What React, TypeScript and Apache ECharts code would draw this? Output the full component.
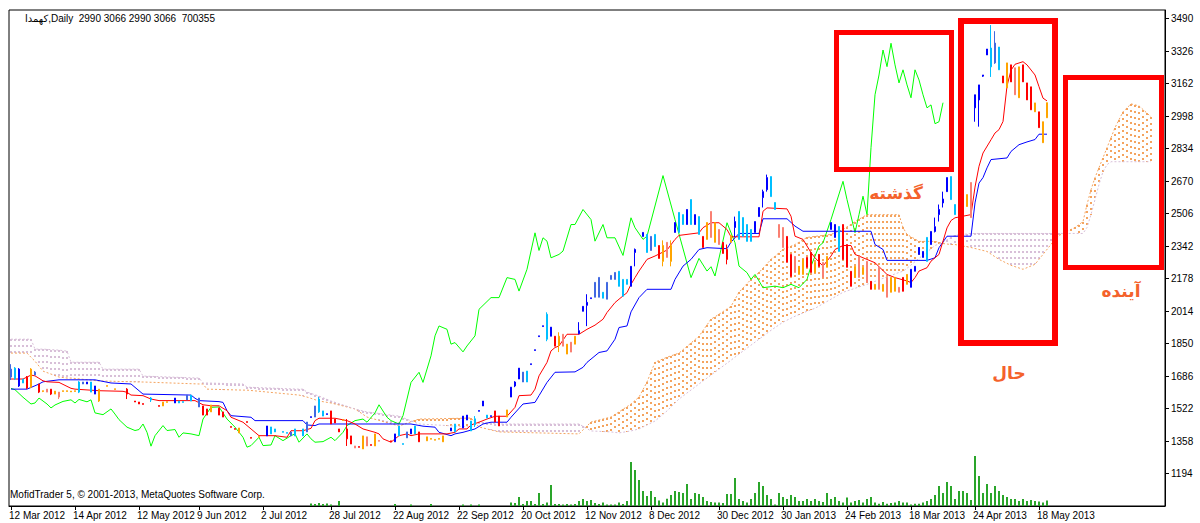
import React, { useEffect, useRef } from 'react';
import * as echarts from 'echarts';

const CATEGORY_COUNT = 289;
const FONT = '"Liberation Sans", "DejaVu Sans", sans-serif';

const dateLabels = ['12 Mar 2012', '14 Apr 2012', '12 May 2012', '9 Jun 2012', '2 Jul 2012', '28 Jul 2012', '22 Aug 2012', '22 Sep 2012', '20 Oct 2012', '12 Nov 2012', '8 Dec 2012', '30 Dec 2012', '30 Jan 2013', '24 Feb 2013', '18 Mar 2013', '24 Apr 2013', '18 May 2013'];
const dateLabelBars = [0, 16, 32, 47, 63, 80, 96, 112, 128, 144, 160, 177, 193, 209, 225, 241, 257];

const priceMin = 1030;
const priceStep = 164;
const priceMax = 3534;
const volumeMax = 69440;

const candleColors: Record<string, string> = { B: '#0000FF', R: '#4169E1', C: '#00BFFF', D: '#FF0000', O: '#FFA500', S: '#FA8072' };

type Candle = [number, number, number, number, string] | null;
// [open, close, low, high, colour code]
const candles: Candle[] = [
  [1681,1721,1666,1746,'R'],[1671,1726,1666,1731,'C'],[1636,1721,1631,1726,'B'],[1651,1671,1651,1671,'C'],[1625,1681,1620,1686,'D'],[1630,1721,1625,1726,'O'],[1691,1706,1691,1711,'R'],[1605,1646,1600,1646,'D'],[1608,1612,1605,1612,'O'],[1605,1620,1605,1620,'S'],
  [1595,1620,1590,1620,'D'],[1595,1610,1595,1610,'O'],[1580,1605,1570,1605,'S'],[1608,1612,1608,1612,'O'],[1608,1612,1608,1612,'O'],[1606,1610,1606,1610,'O'],[1608,1612,1608,1612,'O'],[1605,1656,1600,1660,'C'],[1646,1656,1646,1656,'R'],[1646,1656,1646,1656,'B'],
  [1605,1656,1605,1656,'C'],[1595,1636,1595,1636,'B'],[1560,1620,1555,1620,'O'],null,[1634,1638,1634,1638,'O'],null,[1618,1622,1618,1622,'O'],null,null,[1595,1620,1570,1625,'D'],
  null,[1555,1560,1555,1560,'D'],[1545,1555,1545,1555,'D'],[1543,1547,1543,1547,'D'],null,[1565,1575,1555,1580,'C'],null,[1533,1537,1533,1537,'D'],[1535,1555,1535,1555,'O'],[1553,1557,1553,1557,'O'],
  null,[1550,1575,1550,1575,'B'],[1550,1560,1550,1560,'C'],[1553,1557,1553,1557,'C'],[1565,1590,1565,1590,'R'],[1560,1590,1560,1590,'C'],null,[1530,1575,1530,1575,'R'],[1489,1535,1489,1535,'D'],[1489,1520,1489,1520,'D'],
  [1505,1540,1505,1540,'O'],null,[1489,1525,1489,1525,'D'],[1479,1505,1479,1505,'D'],null,[1427,1431,1427,1431,'D'],[1417,1421,1417,1421,'D'],[1399,1424,1399,1424,'O'],null,[1452,1456,1452,1456,'D'],
  [1372,1376,1372,1376,'D'],null,[1377,1381,1377,1381,'O'],null,[1384,1434,1384,1434,'B'],[1394,1429,1394,1429,'C'],[1404,1419,1404,1419,'C'],null,[1402,1406,1402,1406,'C'],[1397,1401,1397,1401,'C'],
  [1384,1404,1384,1404,'R'],[1384,1419,1384,1419,'C'],null,[1384,1419,1384,1419,'C'],[1404,1454,1404,1454,'R'],[1477,1481,1477,1481,'B'],[1479,1535,1479,1535,'R'],[1505,1570,1500,1580,'C'],[1484,1510,1484,1510,'C'],[1492,1496,1492,1496,'B'],
  [1444,1510,1444,1510,'D'],[1449,1469,1449,1469,'D'],[1404,1419,1404,1419,'D'],[1462,1466,1462,1466,'O'],[1369,1419,1333,1469,'D'],[1343,1384,1343,1384,'D'],[1323,1333,1323,1333,'S'],[1326,1330,1326,1330,'D'],[1318,1384,1318,1384,'O'],[1333,1379,1333,1379,'S'],
  [1336,1340,1336,1340,'D'],[1333,1394,1333,1394,'O'],[1357,1361,1357,1361,'S'],null,null,[1354,1359,1354,1359,'D'],[1354,1394,1354,1394,'B'],[1384,1434,1384,1434,'C'],[1341,1345,1341,1345,'C'],[1374,1404,1374,1404,'R'],
  [1394,1419,1394,1419,'B'],[1394,1434,1394,1434,'C'],[1354,1404,1354,1404,'D'],null,[1359,1379,1359,1379,'O'],[1367,1371,1367,1371,'O'],[1362,1366,1362,1366,'O'],[1367,1371,1367,1371,'O'],[1354,1384,1354,1384,'O'],null,
  [1409,1424,1409,1424,'B'],[1404,1444,1404,1444,'C'],null,[1424,1484,1424,1484,'B'],[1464,1489,1464,1489,'B'],[1409,1459,1409,1459,'C'],[1440,1470,1429,1484,'C'],[1508,1512,1508,1512,'B'],[1535,1560,1535,1560,'B'],[1474,1489,1474,1489,'C'],
  [1482,1486,1482,1486,'B'],[1454,1510,1454,1510,'D'],[1434,1484,1434,1484,'D'],null,[1479,1515,1479,1515,'O'],[1580,1630,1580,1630,'B'],[1636,1656,1630,1660,'B'],[1671,1726,1671,1726,'B'],[1656,1706,1656,1706,'R'],[1656,1711,1656,1711,'C'],
  [1744,1748,1744,1748,'B'],[1815,1819,1815,1819,'B'],[1885,1889,1885,1889,'B'],[1936,1940,1936,1940,'B'],[1872,1998,1862,2008,'C'],[1887,1933,1887,1933,'B'],[1837,1887,1837,1887,'D'],[1842,1887,1807,1907,'O'],[1837,1897,1837,1897,'S'],[1797,1847,1797,1847,'O'],
  [1807,1857,1807,1857,'S'],[1847,1887,1847,1887,'O'],[1900,1915,1897,1958,'B'],[2013,2038,2013,2038,'B'],[2043,2058,1938,2099,'B'],[2077,2081,2077,2081,'B'],[2084,2159,2084,2159,'R'],[2084,2184,2084,2184,'R'],[2079,2109,2079,2109,'C'],[2074,2159,2074,2159,'R'],
  [2174,2194,2174,2194,'R'],[2174,2209,2174,2209,'R'],[2139,2215,2139,2215,'C'],[2089,2174,2089,2174,'C'],[2149,2174,2149,2174,'C'],[2139,2240,2139,2240,'B'],[2310,2325,2240,2330,'B'],null,[2391,2411,2391,2411,'B'],[2310,2401,2310,2401,'C'],
  [2320,2391,2320,2391,'R'],[2340,2401,2340,2401,'C'],[2280,2345,2280,2345,'D'],[2265,2345,2240,2371,'O'],[2285,2361,2285,2361,'S'],[2265,2345,2240,2371,'O'],[2411,2461,2411,2461,'B'],[2411,2512,2411,2512,'C'],[2451,2501,2451,2501,'C'],[2451,2527,2451,2527,'B'],
  [2451,2577,2451,2577,'C'],[2451,2501,2451,2501,'B'],[2401,2491,2401,2491,'C'],[2335,2391,2335,2391,'D'],[2376,2461,2376,2461,'O'],[2386,2517,2386,2517,'S'],[2361,2461,2361,2461,'O'],[2350,2426,2350,2426,'S'],[2305,2361,2305,2361,'D'],[2275,2325,2250,2350,'D'],
  [2361,2396,2361,2396,'O'],[2436,2466,2386,2491,'B'],[2376,2517,2376,2517,'C'],[2391,2486,2391,2486,'C'],[2366,2451,2366,2451,'C'],[2366,2426,2366,2426,'C'],[2411,2466,2411,2466,'B'],[2491,2537,2491,2537,'B'],[2587,2617,2537,2627,'B'],[2627,2688,2617,2703,'B'],
  [2592,2693,2592,2693,'C'],[2527,2562,2527,2562,'C'],[2386,2451,2386,2451,'S'],[2335,2436,2335,2436,'S'],[2260,2391,2260,2391,'D'],[2189,2300,2189,2300,'D'],[2209,2290,2209,2290,'S'],[2199,2240,2199,2240,'O'],[2199,2275,2199,2275,'O'],[2235,2285,2235,2285,'D'],
  [2209,2310,2209,2310,'D'],[2209,2260,2209,2260,'O'],[2240,2300,2240,2300,'D'],[2184,2260,2184,2260,'S'],[2235,2290,2235,2290,'O'],[2426,2461,2426,2461,'B'],[2386,2451,2386,2451,'B'],[2315,2441,2315,2441,'C'],[2275,2451,2275,2451,'D'],[2235,2350,2235,2350,'D'],
  [2139,2215,2139,2215,'D'],[2184,2240,2184,2240,'O'],[2184,2290,2184,2290,'S'],[2199,2235,2199,2235,'O'],[2159,2265,2159,2265,'S'],[2124,2164,2124,2164,'D'],[2124,2149,2124,2149,'O'],[2124,2235,2124,2235,'S'],[2114,2149,2114,2149,'O'],[2084,2184,2084,2184,'S'],
  [2109,2184,2109,2184,'O'],[2114,2184,2114,2184,'O'],[2109,2134,2109,2134,'S'],[2114,2184,2114,2184,'D'],[2149,2199,2149,2199,'O'],[2134,2225,2134,2225,'B'],[2215,2240,2215,2240,'B'],[2300,2335,2300,2335,'B'],[2285,2315,2285,2315,'B'],[2265,2386,2265,2386,'C'],
  [2350,2416,2350,2416,'B'],[2416,2440,2411,2486,'B'],[2501,2527,2466,2552,'B'],[2560,2580,2537,2617,'B'],[2617,2688,2617,2688,'B'],[2577,2693,2577,2693,'C'],[2501,2552,2501,2552,'C'],null,[2436,2517,2350,2517,'O'],[2542,2602,2542,2602,'O'],
  [2486,2663,2486,2663,'S'],[3040,3106,2970,3106,'B'],[3080,3156,2945,3156,'B'],[3200,3206,3196,3206,'B'],[3307,3337,3307,3337,'B'],[3247,3342,3196,3458,'C'],[3267,3367,3262,3427,'R'],[3232,3347,3232,3347,'C'],[3166,3201,3166,3201,'D'],[3141,3267,3141,3267,'O'],
  [3171,3257,3171,3257,'D'],[3106,3242,3106,3242,'S'],[3091,3247,3091,3247,'O'],[3171,3257,3171,3257,'D'],[3080,3166,3080,3166,'D'],[3030,3146,3030,3146,'D'],[3020,3065,3020,3065,'O'],[2940,3020,2940,3020,'D'],[2864,2970,2864,2970,'O'],[2990,3066,2990,3066,'O'],
];

// [bar, volume in thousands]
const volumes: [number, number][] = [
  [75,350],[76,280],[77,420],[78,280],[79,350],[80,210],[82,700],[96,280],[100,210],[105,280],[113,210],[115,210],[117,210],[125,490],[126,420],[127,1260],[128,280],[129,700],[130,700],[131,280],[132,1820],[133,280],[134,490],[135,2940],[136,280],[137,280],[138,210],[139,280],[140,210],[141,280],[142,700],[143,980],[144,700],[145,840],[146,420],[147,280],[148,490],[149,210],[150,210],[151,210],[152,490],[153,280],[154,700],
  [155,6160],[156,5040],[157,3640],[158,2100],[159,1400],[160,2100],[161,1260],[162,760],[163,490],[164,1020],[165,1540],[166,2100],[167,1960],[168,1820],[169,3080],[170,980],[171,1820],[172,1680],[173,1260],[174,700],[175,560],[176,490],[177,490],[178,420],[179,1680],[180,1680],[181,3920],[182,980],[183,700],[184,490],[185,980],[186,1820],[187,3360],[188,2800],[189,1540],[190,980],[191,210],[192,1820],[193,1260],[194,980],[195,1540],[196,1260],[197,700],[198,700],[199,980],[200,700],[201,980],[202,700],[203,560],[204,1820],[205,980],[206,1260],[207,700],[208,490],[209,1190],[210,490],[211,700],[212,840],[213,490],[214,980],[215,1260],[216,490],[217,320],[218,560],[219,320],[220,420],[221,490],[222,700],[223,490],[224,490],[225,210],[226,320],[227,320],[228,490],[229,700],[230,980],[231,1540],[232,2800],[233,1820],[234,3360],[235,2800],[236,980],[237,2100],[238,2100],[239,1820],[240,840],[241,7000],[242,4200],[243,1820],[244,3080],[245,1820],[246,2800],[247,2100],[248,1540],[249,1260],[250,980],[251,980],[252,700],[253,980],[254,700],[255,840],[256,700],[257,640],[258,490],[259,760],
];

// Tenkan-sen (red), [bar, value]
const tenkan: [number, number][] = [
  [0,1671],[3,1671],[5,1691],[6,1687],[8,1662],[9,1657],[12,1654],[15,1624],[16,1620],[22,1612],[28,1609],[29,1604],[30,1590],[33,1587],[35,1570],[37,1562],[46,1562],[48,1541],[50,1536],[52,1536],[54,1511],[55,1478],[58,1453],[61,1402],[62,1385],[66,1385],[69,1377],[70,1410],[73,1410],[75,1422],[76,1461],[77,1473],[81,1473],[84,1461],[86,1444],[88,1419],[91,1402],[92,1394],[93,1369],[95,1352],[97,1385],[99,1394],[100,1385],[102,1394],[109,1394],[111,1402],[112,1419],[114,1419],[115,1439],[117,1453],[119,1469],[121,1483],[124,1483],[126,1528],[127,1587],[130,1590],[131,1620],[132,1687],[134,1755],[135,1813],[136,1830],[137,1838],[139,1897],[142,1897],[144,1922],[146,1943],[148,1973],[149,2007],[151,2057],[152,2074],[154,2107],[155,2149],[156,2183],[157,2216],[159,2275],[161,2292],[164,2322],[166,2376],[167,2396],[172,2409],[173,2435],[175,2460],[177,2460],[179,2426],[180,2389],[187,2389],[188,2518],[189,2535],[194,2530],[195,2493],[196,2392],[198,2376],[200,2309],[201,2283],[203,2241],[205,2292],[206,2325],[208,2345],[210,2345],[211,2300],[216,2258],[219,2199],[221,2183],[224,2166],[225,2158],[226,2183],[227,2216],[229,2233],[230,2266],[232,2300],[234,2434],[235,2471],[236,2485],[240,2501],[241,2640],[242,2745],[243,2812],[245,2879],[246,2913],[247,2930],[248,2971],[249,3150],[250,3230],[251,3260],[253,3273],[254,3257],[256,3206],[257,3147],[258,3089],[259,3075],
];

// Kijun-sen (blue)
const kijun: [number, number][] = [
  [0,1620],[4,1620],[6,1637],[7,1646],[8,1657],[12,1667],[21,1667],[25,1651],[30,1646],[32,1612],[33,1595],[45,1590],[46,1574],[47,1562],[52,1557],[53,1553],[54,1511],[55,1486],[60,1478],[61,1461],[73,1461],[74,1439],[76,1436],[77,1444],[100,1444],[103,1433],[106,1428],[107,1402],[110,1385],[111,1394],[113,1402],[116,1419],[118,1444],[120,1453],[124,1453],[125,1478],[128,1545],[131,1553],[132,1587],[134,1654],[136,1705],[141,1707],[143,1730],[144,1755],[147,1805],[149,1813],[151,1872],[152,1931],[154,1939],[155,2010],[157,2082],[159,2124],[165,2124],[166,2174],[168,2241],[170,2275],[172,2325],[174,2334],[179,2329],[180,2362],[181,2384],[182,2406],[187,2406],[188,2480],[194,2480],[196,2443],[198,2417],[215,2417],[216,2350],[218,2325],[219,2270],[229,2270],[231,2283],[232,2334],[234,2392],[240,2392],[241,2560],[242,2660],[243,2688],[244,2737],[245,2779],[249,2787],[250,2820],[252,2854],[254,2868],[256,2880],[257,2907],[259,2907],
];

// Chikou span (green)
const chikou: [number, number][] = [
  [0,1624],[1,1617],[3,1579],[5,1545],[6,1550],[7,1575],[9,1545],[10,1525],[11,1540],[13,1558],[15,1566],[16,1550],[17,1568],[19,1556],[20,1566],[21,1500],[23,1491],[25,1520],[26,1494],[27,1466],[29,1428],[31,1411],[32,1416],[33,1444],[34,1402],[35,1332],[36,1385],[38,1436],[39,1411],[41,1416],[42,1377],[43,1399],[45,1394],[47,1385],[48,1469],[50,1528],[52,1530],[54,1469],[56,1428],[58,1377],[59,1327],[60,1335],[62,1377],[63,1335],[65,1338],[66,1385],[68,1360],[70,1385],[71,1394],[72,1352],[74,1394],[75,1369],[76,1352],[78,1355],[80,1377],[81,1360],[83,1402],[84,1436],[86,1461],[88,1469],[89,1453],[91,1500],[92,1541],[94,1478],[95,1461],[97,1444],[98,1486],[100,1654],[102,1705],[103,1654],[105,1788],[106,1889],[107,1939],[109,1922],[110,1847],[111,1855],[113,1808],[114,1838],[116,1889],[117,2023],[120,2082],[122,2082],[124,2183],[126,2174],[127,2115],[129,2225],[131,2409],[132,2320],[133,2384],[134,2367],[135,2283],[137,2300],[138,2317],[140,2451],[141,2451],[143,2527],[145,2476],[146,2367],[148,2451],[149,2384],[151,2384],[153,2295],[155,2485],[156,2435],[158,2376],[159,2392],[163,2698],[166,2476],[170,2183],[172,2280],[174,2216],[175,2238],[176,2191],[179,2460],[181,2359],[182,2241],[184,2208],[185,2174],[186,2199],[187,2166],[188,2132],[191,2140],[193,2132],[195,2149],[197,2132],[199,2174],[200,2241],[202,2342],[203,2359],[205,2476],[208,2669],[209,2577],[211,2410],[212,2501],[213,2594],[214,2501],[215,2839],[216,3106],[217,3206],[218,3332],[219,3248],[220,3366],[221,3257],[222,3166],[223,3232],[224,3156],[225,3091],[226,3232],[227,3181],[228,3106],[229,3040],[230,3055],[231,2960],[232,2970],[233,3066],
];

// Senkou spans A (sandy brown) and B (thistle), read at shared bars
const spanBars = [0,4,5,6,8,12,14,15,22,23,32,33,47,48,49,58,59,72,73,74,77,80,83,86,89,97,102,115,117,122,142,145,150,152,155,157,159,161,164,167,172,175,177,180,182,185,187,190,193,196,199,201,205,208,211,214,222,223,224,227,231,233,235,236,240,244,247,250,253,256,258,261,262,266,268,269,270,271,272,273,274,275,276,278,280,282,285];
const spanA = [1802,1802,1781,1761,1711,1681,1676,1676,1661,1661,1656,1656,1646,1646,1620,1615,1615,1590,1585,1580,1560,1550,1535,1520,1479,1434,1469,1474,1429,1404,1394,1454,1479,1505,1545,1580,1656,1756,1781,1802,1887,1973,1998,2038,2109,2174,2209,2275,2325,2350,2386,2391,2401,2426,2466,2501,2501,2436,2401,2366,2366,2355,2350,2350,2335,2315,2275,2245,2225,2250,2300,2376,2396,2436,2466,2552,2627,2688,2738,2788,2839,2889,2940,3020,3060,3050,2995];
const spanB = [1872,1872,1872,1822,1822,1817,1812,1756,1756,1721,1721,1686,1676,1651,1651,1646,1630,1620,1620,1605,1585,1560,1540,1520,1505,1484,1444,1429,1454,1444,1444,1409,1404,1399,1409,1419,1439,1459,1510,1570,1646,1691,1721,1766,1797,1842,1872,1917,1958,1988,2013,2028,2074,2109,2129,2149,2209,2215,2230,2280,2345,2361,2386,2396,2406,2406,2406,2406,2406,2406,2406,2406,2406,2406,2406,2436,2501,2577,2653,2718,2753,2768,2768,2768,2768,2768,2768];

const titleText = 'کهمدا,Daily  2990 3066 2990 3066  700355';
const copyrightText = 'MofidTrader 5, © 2001-2013, MetaQuotes Software Corp.';
const noteTexts = ['گذشته', 'حال', 'آینده'];

const CLOUD_UP = '#F4A460';
const CLOUD_DOWN = '#D8BFD8';

export default function App() {
  const ref = useRef<HTMLDivElement>(null);

  useEffect(() => {
    if (!ref.current) return;
    const chart = echarts.init(ref.current, null, { renderer: 'svg' });

    const labelMap = new Map<number, string>();
    dateLabelBars.forEach((b, k) => labelMap.set(b, dateLabels[k]));
    const categories = Array.from({ length: CATEGORY_COUNT }, (_, i) => 'b' + i);
    const isLabel = (i: number) => labelMap.has(i);

    const candleData = candles.map((c) => {
      if (!c) return ['-', '-', '-', '-'];
      const col = candleColors[c[4]];
      return {
        value: [c[0], c[1], c[2], c[3]],
        itemStyle: { color: col, color0: col, borderColor: col, borderColor0: col },
      };
    });

    const nSpan = spanBars.length;
    const cloudData = spanBars.map((b, k) => [b, spanA[k], spanB[k]]);

    const noteStyle = { fill: '#F4622C', fontSize: 17, fontWeight: 'bold', fontFamily: '"DejaVu Sans", sans-serif', align: 'center', verticalAlign: 'middle' };

    const option: any = {
      animation: false,
      backgroundColor: '#ffffff',
      grid: {
        left: 9, top: 10, width: 1156, height: 496,
        show: true, borderColor: '#000000', borderWidth: 1, backgroundColor: 'transparent',
      },
      xAxis: {
        type: 'category',
        data: categories,
        boundaryGap: true,
        axisLine: { show: true, lineStyle: { color: '#000000', width: 1 } },
        axisTick: { show: true, alignWithLabel: true, interval: (i: number) => isLabel(i), length: 4, lineStyle: { color: '#000000' } },
        axisLabel: {
          show: true,
          interval: (i: number) => isLabel(i),
          formatter: (_v: string, i: number) => labelMap.get(i) ?? '',
          align: 'left', margin: 4, padding: [0, 0, 0, -2], color: '#000000', fontSize: 10, fontFamily: FONT,
        },
        splitLine: { show: false },
      },
      yAxis: [
        {
          type: 'value', position: 'right',
          min: priceMin, max: priceMax, interval: priceStep,
          axisLine: { show: true, lineStyle: { color: '#000000' } },
          axisTick: { show: true, length: 4, lineStyle: { color: '#000000' } },
          axisLabel: {
            showMinLabel: false, showMaxLabel: false, margin: 6,
            color: '#000000', fontSize: 10, fontFamily: FONT,
            formatter: (v: number) => String(v),
          },
          splitLine: { show: false },
        },
        { type: 'value', min: 0, max: volumeMax, show: false, splitLine: { show: false } },
      ],
      series: [
        {
          // Ichimoku cloud: a dotted column per bar between Senkou Span A and B
          type: 'custom',
          name: 'Cloud',
          coordinateSystem: 'cartesian2d',
          xAxisIndex: 0, yAxisIndex: 0,
          clip: true,
          silent: true,
          z: 1,
          data: cloudData,
          encode: { x: 0, y: [1, 2] },
          renderItem: (params: any, api: any) => {
            const k = params.dataIndex;
            const b0 = spanBars[k];
            const last = k >= nSpan - 1;
            const b1 = last ? b0 + 1 : spanBars[k + 1];
            const a0 = api.coord([b0, spanA[k]]);
            const c0 = api.coord([b0, spanB[k]]);
            const a1 = last ? a0 : api.coord([b1, spanA[k + 1]]);
            const c1 = last ? c0 : api.coord([b1, spanB[k + 1]]);
            const children: any[] = [];
            for (let j = b0; j < b1; j++) {
              const t = (j - b0) / (b1 - b0);
              const x = Math.round(api.coord([j, spanA[k]])[0]);
              const ya = a0[1] + (a1[1] - a0[1]) * t;
              const yb = c0[1] + (c1[1] - c0[1]) * t;
              const top = Math.round(Math.min(ya, yb));
              const bottom = Math.round(Math.max(ya, yb));
              if (bottom - top < 1) continue;
              children.push({
                type: 'line',
                shape: { x1: x, y1: top, x2: x, y2: bottom },
                style: { stroke: ya <= yb ? CLOUD_UP : CLOUD_DOWN, lineWidth: 2, lineDash: [2, 4] },
              });
            }
            return { type: 'group', children };
          },
        },
        {
          type: 'line', name: 'Senkou Span A', data: spanBars.map((b, k) => [b, spanA[k]]),
          showSymbol: false, symbol: 'none', z: 2, silent: true,
          lineStyle: { color: CLOUD_UP, width: 1, type: [2, 2] },
        },
        {
          type: 'line', name: 'Senkou Span B', data: spanBars.map((b, k) => [b, spanB[k]]),
          showSymbol: false, symbol: 'none', z: 2, silent: true,
          lineStyle: { color: CLOUD_DOWN, width: 1, type: [2, 2] },
        },
        {
          type: 'bar', name: 'Volume', xAxisIndex: 0, yAxisIndex: 1,
          data: volumes, barWidth: 2, z: 2, silent: true,
          itemStyle: { color: '#2AA52A' },
        },
        {
          type: 'line', name: 'Chikou Span', data: chikou,
          showSymbol: false, symbol: 'none', z: 3, silent: true,
          lineStyle: { color: '#00FF00', width: 1 },
        },
        {
          type: 'line', name: 'Kijun-sen', data: kijun,
          showSymbol: false, symbol: 'none', z: 3, silent: true,
          lineStyle: { color: '#0000FF', width: 1 },
        },
        {
          type: 'line', name: 'Tenkan-sen', data: tenkan,
          showSymbol: false, symbol: 'none', z: 3, silent: true,
          lineStyle: { color: '#FF0000', width: 1 },
        },
        {
          type: 'candlestick', name: 'Price', data: candleData,
          barWidth: 2, z: 4, silent: true,
          itemStyle: { borderWidth: 1 },
        },
      ],
      graphic: [
        { type: 'text', left: 25, top: 13, z: 100, style: { text: titleText, fill: '#000000', fontSize: 10, fontFamily: FONT } },
        { type: 'text', left: 10, top: 489, z: 100, style: { text: copyrightText, fill: '#000000', fontSize: 10, fontFamily: FONT } },
        { type: 'rect', z: 100, shape: { x: 836.5, y: 32.5, width: 115, height: 137 }, style: { fill: 'none', stroke: '#FF0000', lineWidth: 5 } },
        { type: 'rect', z: 100, shape: { x: 961, y: 21, width: 94, height: 322 }, style: { fill: 'none', stroke: '#FF0000', lineWidth: 6 } },
        { type: 'rect', z: 100, shape: { x: 1065.5, y: 77.5, width: 96, height: 190 }, style: { fill: 'none', stroke: '#FF0000', lineWidth: 5 } },
        { type: 'text', x: 896, y: 193, z: 100, style: { text: noteTexts[0], ...noteStyle } },
        { type: 'text', x: 1009, y: 373, z: 100, style: { text: noteTexts[1], ...noteStyle } },
        { type: 'text', x: 1121, y: 291, z: 100, style: { text: noteTexts[2], ...noteStyle } },
      ],
    };

    chart.setOption(option);
    return () => chart.dispose();
  }, []);

  return <div ref={ref} style={{ position: 'fixed', left: 0, top: 0, width: 1200, height: 523, background: '#ffffff' }} />;
}
